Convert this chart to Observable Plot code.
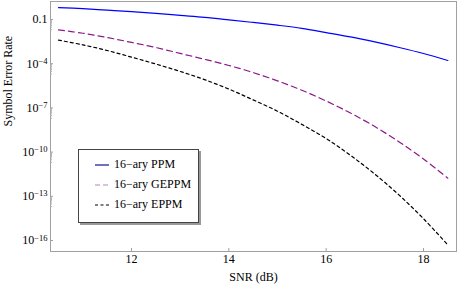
<!DOCTYPE html>
<html><head><meta charset="utf-8">
<script src="https://cdn.jsdelivr.net/npm/d3@7"></script>
<script src="https://cdn.jsdelivr.net/npm/@observablehq/plot@0.6"></script>
<style>
body{margin:0;background:#fff;}
#wrap{position:relative;width:457px;height:288px;font-family:"Liberation Serif","Times New Roman",Times,serif;}
#legend{position:absolute;left:78px;top:149px;width:119px;height:72px;border:1px solid #444;background:#fff;box-shadow:2px 2px 0 #999;font-size:12px;color:#000;font-family:"Liberation Serif","Times New Roman",Times,serif;}
#legend .row{position:absolute;left:16px;height:14px;line-height:14px;white-space:nowrap;}
#legend svg{vertical-align:middle;margin-right:5px;}
</style></head><body><div id="wrap"><div id="legend"></div></div>
<script>
const snr = [10.5, 11, 11.5, 12, 12.5, 13, 13.5, 14, 14.5, 15, 15.5, 16, 16.5, 17, 17.5, 18, 18.5];
const serPPM = [6.5e-1, 5.4e-1, 4.3e-1, 3.4e-1, 2.6e-1, 1.9e-1, 1.4e-1, 9.5e-2, 6.3e-2, 4.1e-2, 2.5e-2, 1.3e-2, 6.6e-3, 3.0e-3, 1.26e-3, 4.9e-4, 1.66e-4];
const serGEPPM = [2.0e-2, 1.17e-2, 6.0e-3, 2.8e-3, 1.26e-3, 5.0e-4, 2.0e-4, 7.6e-5, 2.5e-5, 6.9e-6, 1.58e-6, 2.95e-7, 4.5e-8, 5.4e-9, 4.9e-10, 3.4e-11, 1.7e-12];
const serEPPM = [4.0e-3, 1.9e-3, 7.9e-4, 2.8e-4, 9.5e-5, 3.0e-5, 8.3e-6, 1.9e-6, 3.5e-7, 6.0e-8, 7.6e-9, 8.3e-10, 6.0e-11, 3.2e-12, 1.2e-13, 3.0e-15, 5.0e-17];
const seriesNames = ["16\u2212ary PPM", "16\u2212ary GEPPM", "16\u2212ary EPPM"];
const seriesColors = ["#0000ff", "#8a1a8a", "#000000"];
const legendColors = ["#1010a0", "#c080c0", "#000000"];
const seriesDash = [null, "6,4", "3,3"];
const xTicks = [12, 14, 16, 18];
const yExp = [-1, -4, -7, -10, -13, -16];
const yTicks = yExp.map(e => Math.pow(10, e));
const minorK = [2, 3, 4, 5, 6, 7, 8, 9];
const minorTicks = yExp.slice(0, 5).flatMap(e => minorK.map(k => k * Math.pow(10, e - 1)));

const series = [serPPM, serGEPPM, serEPPM].map((vals, i) =>
  snr.map((s, j) => ({snr: s, ser: vals[j], name: seriesNames[i]})));

const blank = () => "";
const serifFont = "'Liberation Serif', 'Times New Roman', Times, serif";

const chart = Plot.plot({
  width: 457, height: 288,
  marginLeft: 50, marginRight: 1, marginTop: 1, marginBottom: 37,
  style: {fontFamily: serifFont, fontSize: "12px", background: "white", color: "#000"},
  x: {domain: [10.336, 18.678]},
  y: {type: "log", domain: [1.79e-17, 1.67]},
  marks: [
    Plot.frame({stroke: "#a0a0a0"}),
    Plot.axisX(xTicks, {tickSize: 3, dy: -3, tickFormat: blank, stroke: "#a0a0a0", label: null}),
    Plot.axisX(xTicks, {tickSize: 0, tickPadding: 3, label: null, fill: "#000", fontFamily: serifFont}),
    Plot.axisY(yTicks, {tickSize: 3, dx: 3, tickFormat: blank, stroke: "#a0a0a0", label: null}),
    Plot.axisY(minorTicks, {tickSize: 2, dx: 2, tickFormat: blank, stroke: "#b0b0b0", label: null}),
    Plot.axisY(yTicks, {tickSize: 0, tickPadding: 3, label: null, fill: "#000", fontFamily: serifFont,
      tickFormat: d => "E" + Math.round(Math.log10(d))}),
    Plot.text(["SNR (dB)"], {frameAnchor: "bottom", dy: 29, fontSize: 12, fill: "#000", fontFamily: serifFont}),
    Plot.text(["Symbol Error Rate"], {frameAnchor: "left", dx: -42, rotate: -90, fontSize: 12, fill: "#000", fontFamily: serifFont}),
    ...series.map((data, i) => Plot.line(data, {
      x: "snr", y: "ser", curve: "catmull-rom",
      stroke: seriesColors[i], strokeWidth: 1.2,
      strokeDasharray: seriesDash[i]
    }))
  ]
});

// superscript exponents on y tick labels
const ns = "http://www.w3.org/2000/svg";
chart.querySelectorAll('text').forEach(t => {
  const s = t.textContent;
  if (!/^E-?\d+$/.test(s)) return;
  const e = +s.slice(1);
  if (e === -1) { t.textContent = "0.1"; return; }
  t.textContent = "";
  const a = document.createElementNS(ns, "tspan"); a.textContent = "10";
  const b = document.createElementNS(ns, "tspan"); b.textContent = "\u2212" + Math.abs(e);
  b.setAttribute("dy", "-0.45em"); b.setAttribute("font-size", "8.5px");
  t.appendChild(a); t.appendChild(b);
});

document.getElementById("wrap").prepend(chart);

const legend = document.getElementById("legend");
const rowTops = [7, 26.5, 46.5];
seriesNames.forEach((n, i) => {
  const r = document.createElement("div");
  r.className = "row"; r.style.top = rowTops[i] + "px";
  const dash = seriesDash[i] ? `stroke-dasharray="${i === 1 ? '5,3' : '3,2.5'}"` : "";
  r.innerHTML = `<svg width="14" height="4"><line x1="0" x2="14" y1="2" y2="2" stroke="${legendColors[i]}" stroke-width="1.2" ${dash}/></svg>${n}`;
  legend.appendChild(r);
});
</script></body></html>
